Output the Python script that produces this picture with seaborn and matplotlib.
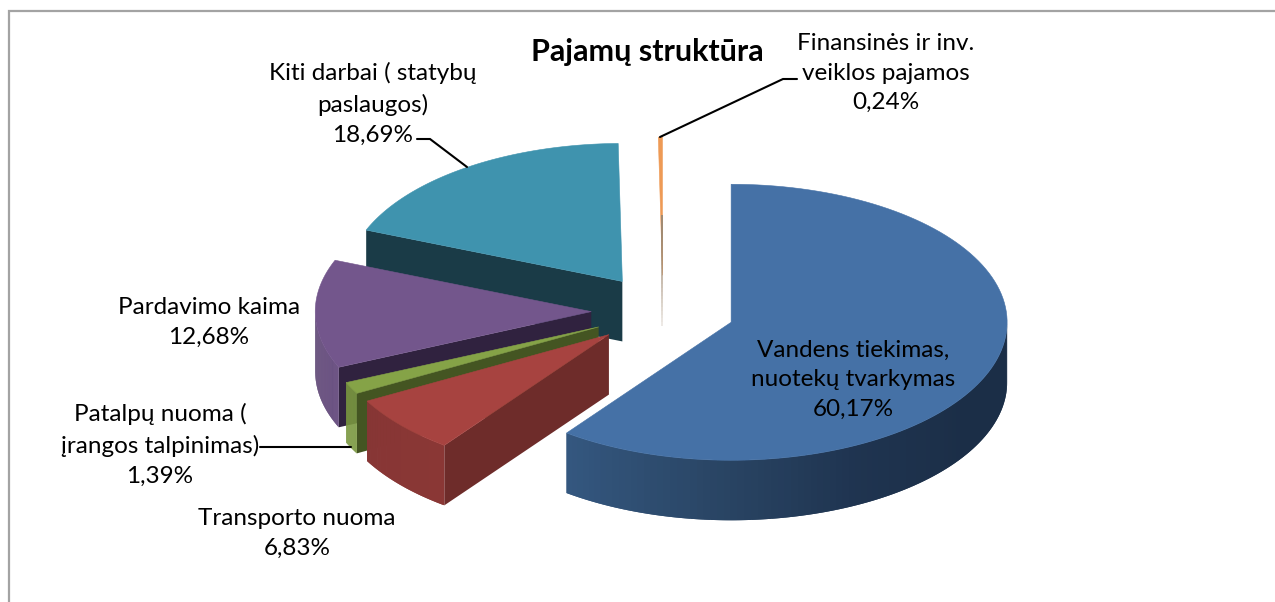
import numpy as np
import matplotlib
matplotlib.use("Agg")
import matplotlib.pyplot as plt
import seaborn as sns

# ---- data ----
categories = ["Vandens tiekimas,\nnuotekų tvarkymas", "Transporto nuoma", "Patalpų nuoma (\nįrangos talpinimas)",
              "Pardavimo kaima", "Kiti darbai ( statybų\npaslaugos)", "Finansinės ir inv.\nveiklos pajamos"]
values = [60.17, 6.83, 1.39, 12.68, 18.69, 0.24]
title = "Pajamų struktūra"

# ---- styling ----
top_colors = ["#4571A6", "#A74340", "#85A347", "#73568C", "#3F93AE", "#EE9A55"]
cut_colors = ["#1B2E47", "#6E2C2A", "#445522", "#30223F", "#1A3B47", "#B9A590"]
wall_ramps = [["#1B2E47", "#1B2E47", "#1F3450", "#2A4666", "#34577F"],
              ["#8A3735", "#873635"], ["#7C9A42", "#7C9A42"],
              ["#6A5082", "#5E4774"], ["#2F6E83", "#2F6E83"], ["#B9A590", "#B9A590"]]
label_pos = [(853, 380), (297, 533), (160, 445), (209, 322), (373, 104), (886, 73)]
leaders = [None, None, [(260, 447), (351, 447)], None,
           [(417, 139), (430, 139), (467, 167)], [(797, 79), (783, 79), (660, 137)]]
CX, CY, RX, RY, DEPTH, EXPLODE = 663, 311, 276, 138, 60, 0.26
W, H = 1275, 602

sns.set_theme(style="white")
plt.rcParams["font.family"] = ["Lato", "DejaVu Sans"]

fig = plt.figure(figsize=(W / 100, H / 100), dpi=100)
ax = fig.add_axes([0, 0, 1, 1])
ax.set_xlim(0, W)
ax.set_ylim(H, 0)
ax.axis("off")

ax.plot([9, 9, W], [H, 11, 11], color="#A3A3A3", lw=1.6, solid_joinstyle="miter")


def rim(ox, oy, a, b, n=120):
    t = np.radians(np.linspace(a, b, n))
    return ox + RX * np.sin(t), oy - RY * np.cos(t)


edges = np.concatenate([[0], np.cumsum(values) / np.sum(values) * 360])
slices = []
for i in range(len(values)):
    a, b = edges[i], edges[i + 1]
    mid = np.radians((a + b) / 2)
    ox = CX + EXPLODE * RX * np.sin(mid)
    oy = CY - EXPLODE * RY * np.cos(mid)
    slices.append((i, a, b, ox, oy))

# back to front: last slices first
for i, a, b, ox, oy in reversed(slices):
    order = 10 + (len(values) - i) * 3
    if i == 5:
        continue
    # cut face at start angle (visible on the left half of the pie)
    if a > 180:
        xr, yr = rim(ox, oy, a, a, 1)
        ax.fill([ox, xr[0], xr[0], ox], [oy, yr[0], yr[0] + DEPTH, oy + DEPTH],
                color=cut_colors[i], lw=0, zorder=order)
    # outer wall, only the part turned towards the viewer
    lo, hi = max(a, 90), min(b, 270)
    if hi > lo:
        n = 90
        ts = np.linspace(lo, hi, n + 1)
        ramp = sns.blend_palette(wall_ramps[i], n)
        for k in range(n):
            # each strip reaches over the next one so no seams show
            xr, yr = rim(ox, oy, ts[k], ts[min(k + 2, n)], 6)
            ax.fill(np.r_[xr, xr[::-1]], np.r_[yr, yr[::-1] + DEPTH], color=ramp[k], lw=0,
                    zorder=order + 1)
    # top face
    xr, yr = rim(ox, oy, a, b)
    ax.fill(np.r_[ox, xr], np.r_[oy, yr], color=top_colors[i], lw=0.4, zorder=order + 2)

# very thin last slice: top face plus a fading cut edge
i, a, b, ox, oy = slices[5]
xr, yr = rim(ox, oy, a, b, 6)
ax.fill(np.r_[ox, xr], np.r_[oy, yr], color=top_colors[5], lw=0.4, zorder=9)
ys = np.linspace(oy - 60, oy + DEPTH - 9, 30)
for k in range(len(ys) - 1):
    alpha = min(1, 1.15 - k / (len(ys) - 1))
    ax.plot([ox - 0.6, ox - 0.6], [ys[k], ys[k + 1]], color="#A08A72", alpha=alpha, lw=1.4, zorder=9.5,
            solid_capstyle="butt")

# labels
for cat, val, (x, y) in zip(categories, values, label_pos):
    pct = f"{val:.2f}%".replace(".", ",")
    ax.text(x, y, f"{cat}\n{pct}", ha="center", va="center", fontsize=17.5, color="black",
            linespacing=1.52, zorder=40)
for pts in leaders:
    if pts:
        ax.plot(*zip(*pts), color="black", lw=1.5, zorder=39, solid_joinstyle="miter")
ax.text(647, 52, title, ha="center", va="center", fontsize=22, fontweight="bold", color="black", zorder=40)

fig.savefig("out.png", dpi=100, facecolor="white")
